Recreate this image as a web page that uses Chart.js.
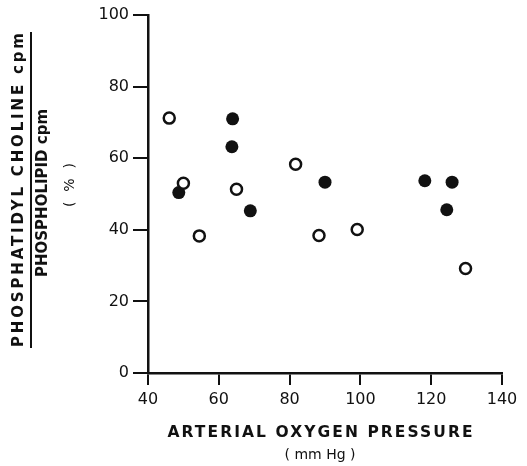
<!DOCTYPE html>
<html><head><meta charset="utf-8">
<script src="https://cdn.jsdelivr.net/npm/chart.js@4"></script>
<style>html,body{margin:0;padding:0;background:#fff}#wrap{width:527px;height:466px}</style>
</head><body><div id="wrap"><canvas id="c" width="527" height="466"></canvas></div>
<script>
const xTicks = [40, 60, 80, 100, 120, 140];
const yTicks = [0, 20, 40, 60, 80, 100];
const openX = [46, 50, 54.5, 65, 81.7, 88.3, 99.1, 129.7];
const openY = [71.2, 53.0, 38.3, 51.3, 58.3, 38.4, 40.1, 29.2];
const filledX = [48.7, 63.9, 63.7, 68.9, 90.0, 118.2, 125.9, 124.4];
const filledY = [50.4, 71.0, 63.2, 45.3, 53.3, 53.7, 53.3, 45.6];
const xTitle = 'ARTERIAL OXYGEN PRESSURE';
const xUnit = '( mm Hg )';
const yTitleTop = 'PHOSPHATIDYL CHOLINE cpm';
const yTitleBottom = 'PHOSPHOLIPID cpm';
const yUnit = '( % )';

function pts(xs, ys){ return xs.map((x,i)=>({x:x,y:ys[i]})); }

function drawSpaced(ctx, text, cx, cy, width){
  ctx.letterSpacing = '0px';
  const w = ctx.measureText(text).width;
  const n = text.length;
  let ls = (width - w) / (n - 1);
  if (ls < 0) ls = 0;
  ctx.letterSpacing = ls + 'px';
  const total = w + ls*(n-1);
  ctx.textAlign = 'left';
  ctx.fillText(text, cx - total/2, cy);
  ctx.letterSpacing = '0px';
}

const titles = {
  id: 'titles',
  afterDraw(chart){
    const ctx = chart.ctx;
    ctx.save();
    ctx.fillStyle = '#111';
    ctx.textBaseline = 'middle';
    ctx.font = 'bold 15.5px "DejaVu Sans", sans-serif';
    drawSpaced(ctx, xTitle, 320, 433, 305);
    ctx.font = '14px "DejaVu Sans", sans-serif';
    drawSpaced(ctx, xUnit, 320, 455, 64);
    ctx.rotate(-Math.PI/2);
    ctx.font = 'bold 15px "DejaVu Sans", sans-serif';
    drawSpaced(ctx, yTitleTop, -190, 19, 314);
    ctx.strokeStyle = '#111';
    ctx.lineWidth = 2;
    ctx.beginPath();
    ctx.moveTo(-348, 31);
    ctx.lineTo(-32, 31);
    ctx.stroke();
    drawSpaced(ctx, yTitleBottom, -193, 43, 166);
    ctx.font = '14px "DejaVu Sans", sans-serif';
    drawSpaced(ctx, yUnit, -185, 70, 44);
    ctx.restore();
  }
};

new Chart(document.getElementById('c'), {
  type: 'scatter',
  data: {
    datasets: [
      { label: 'open', data: pts(openX, openY), pointRadius: 5.5, pointHoverRadius: 5.5,
        pointBackgroundColor: '#fff', pointBorderColor: '#111', pointBorderWidth: 2.5 },
      { label: 'filled', data: pts(filledX, filledY), pointRadius: 6.5, pointHoverRadius: 6.5,
        pointBackgroundColor: '#111', pointBorderColor: '#111', pointBorderWidth: 0 }
    ]
  },
  options: {
    responsive: false,
    animation: false,
    events: [],
    layout: { padding: { left: 0, right: 25, top: 15, bottom: 0 } },
    plugins: { legend: { display: false }, tooltip: { enabled: false } },
    scales: {
      x: {
        type: 'linear', min: 40, max: 140,
        afterFit(s){ s.height = 93; },
        afterBuildTicks(s){ s.ticks = xTicks.map(v=>({value:v})); },
        grid: { display: true, drawOnChartArea: false, drawTicks: true, tickLength: 12, color: '#111', lineWidth: 2 },
        border: { display: true, color: '#111', width: 2.5 },
        ticks: { color: '#111', font: { family: '"DejaVu Sans", sans-serif', size: 16 }, padding: 5, maxRotation: 0 }
      },
      y: {
        type: 'linear', min: 0, max: 100,
        afterFit(s){ s.width = 148; },
        afterBuildTicks(s){ s.ticks = yTicks.map(v=>({value:v})); },
        grid: { display: true, drawOnChartArea: false, drawTicks: true, tickLength: 15, color: '#111', lineWidth: 2 },
        border: { display: true, color: '#111', width: 2.5 },
        ticks: { color: '#111', font: { family: '"DejaVu Sans", sans-serif', size: 16 }, padding: 4 }
      }
    }
  },
  plugins: [titles]
});
</script></body></html>
